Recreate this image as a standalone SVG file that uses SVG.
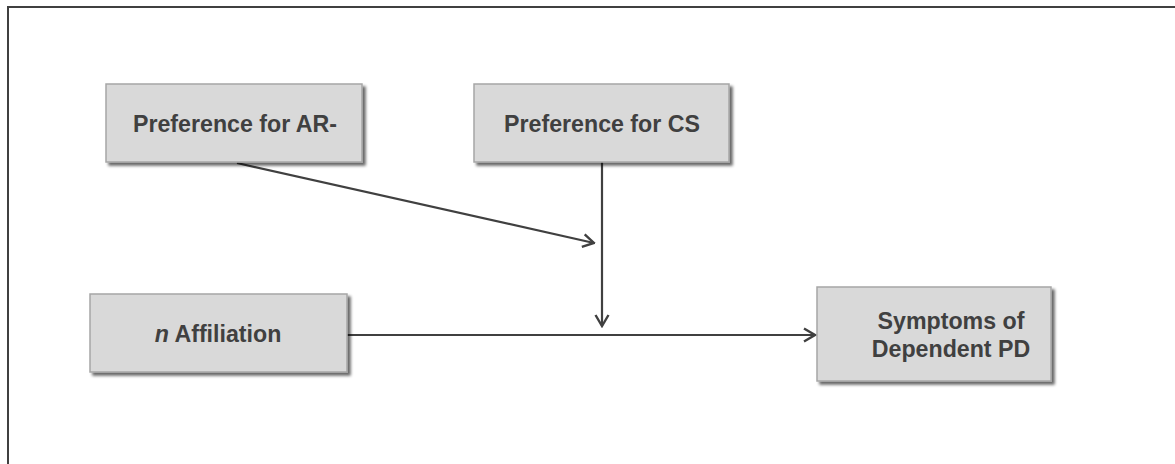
<svg xmlns="http://www.w3.org/2000/svg" width="1175" height="464" viewBox="0 0 1175 464">
  <style>
    .box { fill: #d9d9d9; stroke: #a6a6a6; stroke-width: 1.5; filter: url(#shadow); }
    .label { font-family: "Liberation Sans", Arial, sans-serif; font-weight: bold; font-size: 23.2px; fill: #404040; text-anchor: middle; }
    .edge { stroke: #404040; stroke-width: 2.2; fill: none; marker-end: url(#arrow); }
    .frame { stroke: #404040; stroke-width: 2; fill: none; }
  </style>
  <defs>
    <filter id="shadow" x="-10%" y="-10%" width="125%" height="130%">
      <feGaussianBlur in="SourceAlpha" stdDeviation="1.5"/>
      <feOffset dx="3" dy="3" result="blur"/>
      <feComponentTransfer><feFuncA type="linear" slope="0.6"/></feComponentTransfer>
      <feMerge><feMergeNode/><feMergeNode in="SourceGraphic"/></feMerge>
    </filter>
    <marker id="arrow" viewBox="0 0 14 16" refX="12.5" refY="8" markerWidth="14" markerHeight="16" markerUnits="userSpaceOnUse" orient="auto">
      <path d="M1.5,1.5 L12.5,8 L1.5,14.5" fill="none" stroke="#404040" stroke-width="2.4"/>
    </marker>
  </defs>

  <!-- outer frame (top and left edges) -->
  <path class="frame" d="M8,464 L8,7 L1175,7"/>

  <g id="connectors">
    <line class="edge" x1="237" y1="163" x2="594" y2="243"/>
    <line class="edge" x1="602" y1="162" x2="602" y2="326"/>
    <line class="edge" x1="347" y1="335" x2="815" y2="335"/>
  </g>

  <g id="node-ar">
    <rect class="box" x="106" y="84" width="256" height="78"/>
    <text class="label" x="235" y="132">Preference for AR-</text>
  </g>

  <g id="node-cs">
    <rect class="box" x="474" y="84" width="255" height="78"/>
    <text class="label" x="602" y="132">Preference for CS</text>
  </g>

  <g id="node-affiliation">
    <rect class="box" x="90" y="294" width="257" height="78"/>
    <text class="label" x="218" y="342"><tspan font-style="italic">n</tspan> Affiliation</text>
  </g>

  <g id="node-symptoms">
    <rect class="box" x="817" y="287" width="234" height="94"/>
    <text class="label" x="951" y="329">Symptoms of</text>
    <text class="label" x="951" y="357">Dependent PD</text>
  </g>
</svg>
